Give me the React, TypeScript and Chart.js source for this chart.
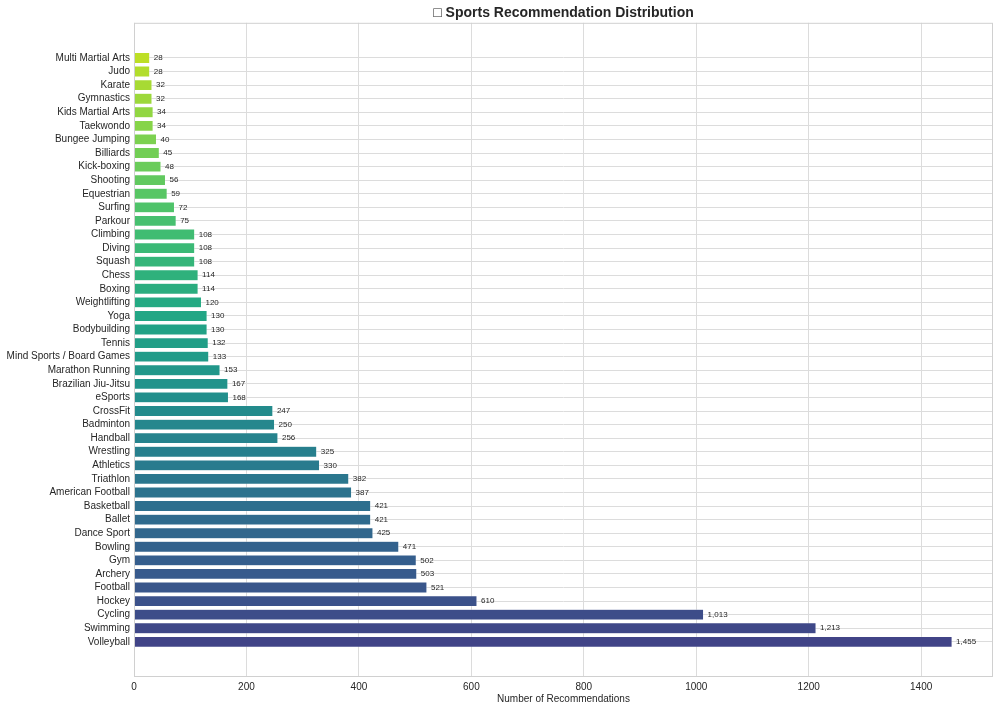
import React, { useEffect, useRef } from 'react';
import { Chart, registerables } from 'chart.js';

Chart.register(...registerables);
Chart.defaults.font.family = '"Liberation Sans", Arial, Helvetica, sans-serif';

// sports sorted by count, descending (drawn bottom to top)
const sports = [
  'Volleyball', 'Swimming', 'Cycling', 'Hockey', 'Football', 'Archery', 'Gym', 'Bowling',
  'Dance Sport', 'Ballet', 'Basketball', 'American Football', 'Triathlon', 'Athletics',
  'Wrestling', 'Handball', 'Badminton', 'CrossFit', 'eSports', 'Brazilian Jiu-Jitsu',
  'Marathon Running', 'Mind Sports / Board Games', 'Tennis', 'Bodybuilding', 'Yoga',
  'Weightlifting', 'Boxing', 'Chess', 'Squash', 'Diving', 'Climbing', 'Parkour', 'Surfing',
  'Equestrian', 'Shooting', 'Kick-boxing', 'Billiards', 'Bungee Jumping', 'Taekwondo',
  'Kids Martial Arts', 'Gymnastics', 'Karate', 'Judo', 'Multi Martial Arts',
];
const counts = [
  1455, 1213, 1013, 610, 521, 503, 502, 471,
  425, 421, 421, 387, 382, 330,
  325, 256, 250, 247, 168, 167,
  153, 133, 132, 130, 130,
  120, 114, 114, 108, 108, 108, 75, 72,
  59, 56, 48, 45, 40, 34,
  34, 32, 32, 28, 28,
];
const xTicks = [0, 200, 400, 600, 800, 1000, 1200, 1400];

const TEXT = '#262626';
const GRID = '#dcdcdc';

// viridis colormap anchors
const VIRIDIS = [
  '#440154', '#482475', '#414487', '#355f8d', '#2a788e', '#21918c',
  '#22a884', '#44bf70', '#7ad151', '#bddf26', '#fde725',
];

function viridis(t: number): string {
  const p = Math.min(Math.max(t, 0), 1) * (VIRIDIS.length - 1);
  const i = Math.min(Math.floor(p), VIRIDIS.length - 2);
  const f = p - i;
  const a = parseInt(VIRIDIS[i].slice(1), 16);
  const b = parseInt(VIRIDIS[i + 1].slice(1), 16);
  const mix = (s: number) => Math.round(((a >> s) & 255) * (1 - f) + ((b >> s) & 255) * f);
  return `rgb(${mix(16)}, ${mix(8)}, ${mix(0)})`;
}

const valueLabels = {
  id: 'valueLabels',
  afterDatasetsDraw(chart: Chart) {
    const { ctx, chartArea } = chart;
    const meta = chart.getDatasetMeta(0);
    ctx.save();
    // frame around the plot
    ctx.strokeStyle = '#d0d0d0';
    ctx.lineWidth = 1;
    ctx.strokeRect(chartArea.left + 0.5, chartArea.top + 0.5, chartArea.width - 1, chartArea.height - 1);
    ctx.font = '8px "Liberation Sans", Arial, sans-serif';
    ctx.fillStyle = TEXT;
    ctx.textAlign = 'left';
    ctx.textBaseline = 'middle';
    meta.data.forEach((bar: any, i: number) => {
      ctx.fillText(counts[i].toLocaleString('en-US'), bar.x + 4, bar.y);
    });
    ctx.restore();
  },
};

const App: React.FC = () => {
  const chartRef = useRef<HTMLCanvasElement>(null);
  const chartInstance = useRef<Chart | null>(null);

  useEffect(() => {
    if (!chartRef.current) return;
    if (chartInstance.current) chartInstance.current.destroy();

    const n = sports.length;
    const yPad = 0.4 + 0.05 * (n - 1 + 0.8);
    const colors = sports.map((_, i) => viridis(0.2 + (0.7 * i) / (n - 1)));

    chartInstance.current = new Chart(chartRef.current, {
      type: 'bar',
      data: {
        datasets: [{
          data: counts.map((c, i) => ({ x: c, y: i })),
          backgroundColor: colors,
          borderColor: 'rgba(255,255,255,0.7)',
          borderWidth: 0.5,
          barPercentage: 0.8,
          categoryPercentage: 1,
        }],
      },
      options: {
        indexAxis: 'y',
        responsive: true,
        maintainAspectRatio: false,
        animation: false,
        layout: { padding: { top: 0, right: 7, bottom: 0, left: 0 } },
        plugins: {
          legend: { display: false },
          tooltip: { enabled: false },
          title: {
            display: true,
            text: '\u25A1 Sports Recommendation Distribution',
            fullSize: false,
            color: TEXT,
            font: { size: 14, weight: 'bold' },
            padding: { top: 5, bottom: 1 },
          },
        },
        scales: {
          x: {
            type: 'linear',
            min: 0,
            max: Math.max(...counts) * 1.05,
            afterBuildTicks: (scale: any) => {
              scale.ticks = xTicks.map((v) => ({ value: v }));
            },
            afterFit: (scale: any) => {
              scale.height = 34;
            },
            ticks: {
              padding: 4,
              color: TEXT,
              font: { size: 10 },
              callback: (v: any) => String(v),
            },
            grid: { color: GRID, drawTicks: false },
            border: { display: false },
            title: {
              display: true,
              text: 'Number of Recommendations',
              color: TEXT,
              font: { size: 10 },
              padding: { top: 0, bottom: 6 },
            },
          },
          y: {
            type: 'linear',
            offset: false,
            min: -yPad,
            max: n - 1 + yPad,
            afterBuildTicks: (scale: any) => {
              scale.ticks = sports.map((_, i) => ({ value: i }));
            },
            afterFit: (scale: any) => {
              scale.width = 134;
            },
            ticks: {
              autoSkip: false,
              padding: 4,
              color: TEXT,
              font: { size: 10 },
              callback: (v: any) => sports[v] ?? '',
            },
            grid: { color: GRID, drawTicks: false, offset: false },
            border: { display: false },
          },
        },
      },
      plugins: [valueLabels],
    } as any);

    return () => {
      if (chartInstance.current) {
        chartInstance.current.destroy();
        chartInstance.current = null;
      }
    };
  }, []);

  return (
    <div style={{ position: 'absolute', left: 0, top: 0, width: 1000, height: 711, background: '#fff' }}>
      <canvas ref={chartRef}></canvas>
    </div>
  );
};

export default App;
